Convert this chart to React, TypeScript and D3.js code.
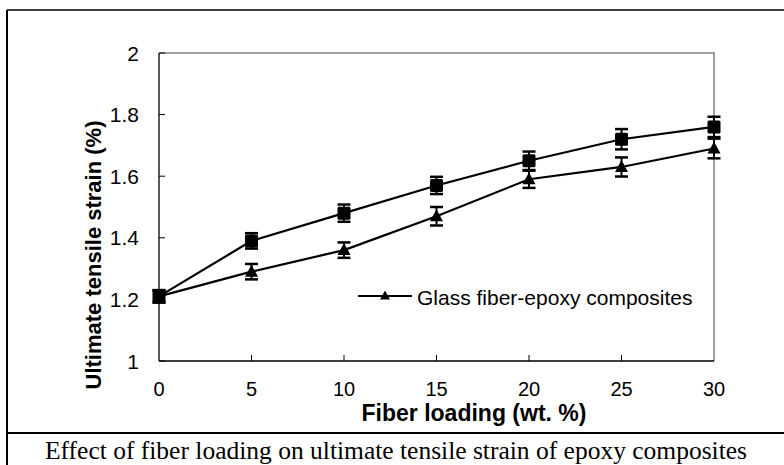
import React, { useEffect, useRef } from 'react';
import * as d3 from 'd3';

// fiber loading (wt. %)
const loadings = [0, 5, 10, 15, 20, 25, 30];
// upper series (square markers, no legend entry)
const squareStrain = [1.21, 1.39, 1.48, 1.57, 1.65, 1.72, 1.76];
const squareErr = [0.02, 0.025, 0.028, 0.028, 0.03, 0.033, 0.033];
// Glass fiber-epoxy composites (triangle markers)
const triStrain = [1.21, 1.29, 1.36, 1.47, 1.59, 1.63, 1.69];
const triErr = [0.02, 0.025, 0.025, 0.03, 0.028, 0.031, 0.032];

const yTicks = [1, 1.2, 1.4, 1.6, 1.8, 2];
const xTicks = [0, 5, 10, 15, 20, 25, 30];

const legendLabel = 'Glass fiber-epoxy composites';
const xTitle = 'Fiber loading (wt. %)';
const yTitle = 'Ultimate tensile strain (%)';
const caption = 'Effect of fiber loading on ultimate tensile strain of epoxy composites';

const App = () => {
  const svgRef = useRef(null);

  useEffect(() => {
    const width = 784;
    const height = 465;
    const plot = { left: 159, right: 714, top: 53, bottom: 361 };
    const font = 'Arial, "Liberation Sans", sans-serif';

    const svg = d3.select(svgRef.current)
      .attr('width', width)
      .attr('height', height);
    svg.selectAll('*').remove();

    // outer figure frame
    svg.append('line').attr('x1', 7).attr('x2', 7).attr('y1', 10).attr('y2', height)
      .attr('stroke', '#000').attr('stroke-width', 2);
    svg.append('line').attr('x1', 7).attr('x2', width).attr('y1', 10).attr('y2', 10)
      .attr('stroke', '#000').attr('stroke-width', 1.5);
    svg.append('line').attr('x1', 7).attr('x2', width).attr('y1', 433).attr('y2', 433)
      .attr('stroke', '#000').attr('stroke-width', 2);

    const x = d3.scaleLinear().domain([0, 30]).range([plot.left, plot.right]);
    const y = d3.scaleLinear().domain([1, 2]).range([plot.bottom, plot.top]);

    // gray top / right of plot area
    svg.append('path')
      .attr('d', `M${plot.left},${plot.top}H${plot.right}V${plot.bottom}`)
      .attr('fill', 'none').attr('stroke', '#808080').attr('stroke-width', 1.5);

    // axes
    svg.append('line').attr('x1', plot.left).attr('x2', plot.left)
      .attr('y1', plot.top).attr('y2', plot.bottom)
      .attr('stroke', '#000').attr('stroke-width', 1.3);
    svg.append('line').attr('x1', plot.left).attr('x2', plot.right)
      .attr('y1', plot.bottom).attr('y2', plot.bottom)
      .attr('stroke', '#000').attr('stroke-width', 1.3);

    // y ticks (inward)
    svg.append('g').selectAll('line').data(yTicks).enter().append('line')
      .attr('x1', plot.left).attr('x2', plot.left + 6)
      .attr('y1', d => y(d)).attr('y2', d => y(d))
      .attr('stroke', '#000').attr('stroke-width', 1);
    svg.append('g').selectAll('text').data(yTicks).enter().append('text')
      .attr('x', plot.left - 20).attr('y', d => y(d)).attr('dy', '0.36em')
      .attr('text-anchor', 'end')
      .style('font-family', font).style('font-size', '21px')
      .text(d => d3.format('~g')(d));

    // x ticks (inward)
    svg.append('g').selectAll('line').data(xTicks.slice(1, -1)).enter().append('line')
      .attr('x1', d => x(d)).attr('x2', d => x(d))
      .attr('y1', plot.bottom).attr('y2', plot.bottom - 6)
      .attr('stroke', '#000').attr('stroke-width', 1);
    svg.append('g').selectAll('text').data(xTicks).enter().append('text')
      .attr('x', d => x(d)).attr('y', 396)
      .attr('text-anchor', 'middle')
      .style('font-family', font).style('font-size', '20px')
      .text(d => d);

    // axis titles
    svg.append('text')
      .attr('x', 474).attr('y', 421)
      .attr('text-anchor', 'middle')
      .style('font-family', font).style('font-size', '23px').style('font-weight', 'bold')
      .text(xTitle);
    svg.append('text')
      .attr('transform', 'translate(101, 255) rotate(-90)')
      .attr('text-anchor', 'middle')
      .style('font-family', font).style('font-size', '22px').style('font-weight', 'bold')
      .text(yTitle);

    const line = d3.line().x(d => x(d[0])).y(d => y(d[1]));
    const series = [
      { values: squareStrain, err: squareErr, shape: 'square' },
      { values: triStrain, err: triErr, shape: 'triangle' },
    ];

    const triPath = 'M0,-7L6.5,5L-6.5,5Z';

    series.forEach(s => {
      const pts = loadings.map((l, i) => [l, s.values[i], s.err[i]]);
      svg.append('path')
        .attr('d', line(pts))
        .attr('fill', 'none').attr('stroke', '#000').attr('stroke-width', 2.2);

      const g = svg.append('g');
      pts.forEach(([l, v, e]) => {
        const cx = x(l);
        g.append('line').attr('x1', cx).attr('x2', cx)
          .attr('y1', y(v + e)).attr('y2', y(v - e))
          .attr('stroke', '#000').attr('stroke-width', 2);
        [v + e, v - e].forEach(c => {
          g.append('line').attr('x1', cx - 6.5).attr('x2', cx + 6.5)
            .attr('y1', y(c)).attr('y2', y(c))
            .attr('stroke', '#000').attr('stroke-width', 2.5);
        });
        if (s.shape === 'square') {
          g.append('rect')
            .attr('x', cx - 6.5).attr('y', y(v) - 6.5)
            .attr('width', 13).attr('height', 13).attr('rx', 1.5)
            .attr('fill', '#000');
        } else {
          g.append('path')
            .attr('transform', `translate(${cx},${y(v)})`)
            .attr('d', triPath).attr('fill', '#000');
        }
      });
    });

    // legend
    svg.append('line').attr('x1', 358).attr('x2', 412).attr('y1', 296).attr('y2', 296)
      .attr('stroke', '#000').attr('stroke-width', 2.2);
    svg.append('path').attr('transform', 'translate(385,296)')
      .attr('d', 'M0,-5.5L5,3.5L-5,3.5Z').attr('fill', '#000');
    svg.append('text')
      .attr('x', 417).attr('y', 305)
      .style('font-family', font).style('font-size', '21px')
      .text(legendLabel);

    // caption
    svg.append('text')
      .attr('x', 396).attr('y', 459)
      .attr('text-anchor', 'middle')
      .style('font-family', '"Liberation Serif", "Times New Roman", serif').style('font-size', '25.5px')
      .text(caption);
  }, []);

  return (
    <svg ref={svgRef} style={{ position: 'absolute', left: 0, top: 0, display: 'block' }}></svg>
  );
};

export default App;
